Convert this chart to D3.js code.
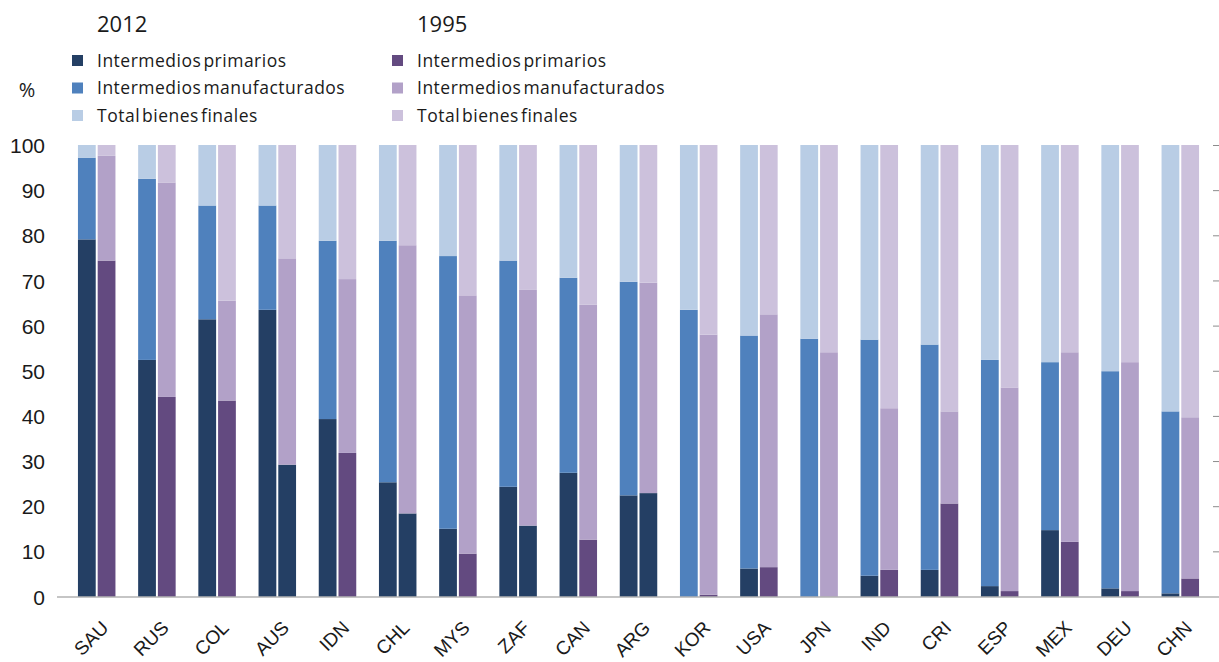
<!DOCTYPE html>
<html><head><meta charset="utf-8">
<script src="https://cdn.jsdelivr.net/npm/d3@7"></script>
<style>
html,body{margin:0;padding:0;background:#fff;}
svg{display:block;}
</style></head>
<body>
<svg id="chart" width="1219" height="662"></svg>
<script>
const countries = ["SAU","RUS","COL","AUS","IDN","CHL","MYS","ZAF","CAN","ARG","KOR","USA","JPN","IND","CRI","ESP","MEX","DEU","CHN"];
const years = ["2012","1995"];
const seriesNames = ["Intermedios primarios","Intermedios manufacturados","Total bienes finales"];

const primary2012 = [79.1,52.4,61.4,63.5,39.3,25.3,15.0,24.3,27.4,22.4,0.0,6.2,0.0,4.6,5.9,2.3,14.7,1.8,0.7];
const manuf2012   = [18.1,40.1,25.2,23.1,39.5,53.5,60.4,50.1,43.2,47.3,63.5,51.6,57.1,52.3,49.9,50.1,37.2,48.1,40.3];
const final2012   = [2.8,7.5,13.4,13.4,21.2,21.2,24.6,25.6,29.4,30.3,36.5,42.2,42.9,43.1,44.2,47.6,48.1,50.1,59.0];

const primary1995 = [74.4,44.2,43.4,29.2,31.8,18.4,9.5,15.7,12.6,22.9,0.4,6.5,0.0,5.9,20.6,1.2,12.1,1.2,4.0];
const manuf1995   = [23.2,47.5,22.1,45.7,38.5,59.4,57.2,52.2,52.0,46.6,57.6,56.0,54.1,35.8,20.4,45.1,42.0,50.7,35.7];
const final1995   = [2.4,8.3,34.5,25.1,29.7,22.2,33.3,32.1,35.4,30.5,42.0,37.5,45.9,58.3,59.0,53.7,45.9,48.1,60.3];

// countries whose 1995 primary segment is drawn in the 2012 navy colour in the original
const navyPrimary1995 = ["AUS","CHL","ZAF","ARG"];

const yTicks = [0,10,20,30,40,50,60,70,80,90,100];

const colors = {
  "2012": ["#243f64","#4f81bd","#b9cde5"],
  "1995": ["#634a80","#b2a1c8","#ccc1dc"]
};

const keys = ["primary","manuf","final"];
const rows = countries.map((c,i)=>({
  country:c,
  "2012":{primary:primary2012[i],manuf:manuf2012[i],final:final2012[i]},
  "1995":{primary:primary1995[i],manuf:manuf1995[i],final:final1995[i]}
}));

const svg = d3.select("#chart");
const y = d3.scaleLinear().domain([0,100]).range([596.5,145]);
const x0 = d3.scaleBand().domain(countries).range([66.6,1210.4]).paddingInner(0.377).paddingOuter(0.1885);
const x1 = d3.scaleBand().domain(years).range([0,x0.bandwidth()]).paddingInner(0.1);

const stack = d3.stack().keys(keys);

const g = svg.append("g");
years.forEach(yr=>{
  const data = rows.map(r=>Object.assign({country:r.country}, r[yr]));
  const st = stack(data);
  st.forEach((layer,li)=>{
    g.selectAll(null).data(layer).enter().append("rect")
      .attr("x",d=>x0(d.data.country)+x1(yr))
      .attr("width",x1.bandwidth())
      .attr("y",d=>y(d[1]))
      .attr("height",d=>Math.max(0,y(d[0])-y(d[1])))
      .attr("fill",d=>{
        if(yr==="1995" && li===0 && navyPrimary1995.includes(d.data.country)) return colors["2012"][0];
        return colors[yr][li];
      });
  });
});

// baseline
svg.append("line").attr("x1",57).attr("x2",1219).attr("y1",y(0)+0.5).attr("y2",y(0)+0.5)
  .attr("stroke","#8c8c8c").attr("stroke-width",1.2);

// left axis labels
const yAxis = d3.axisLeft(y).tickValues(yTicks).tickSize(0).tickPadding(0);
const ya = svg.append("g").attr("transform","translate(45,0)").call(yAxis);
ya.select(".domain").remove();
ya.selectAll("text").attr("font-family","Liberation Sans, Arial, sans-serif").attr("font-size","21px").attr("fill","#1a1a1a").attr("dy","0.36em");

// right tick marks
const yR = d3.axisRight(y).tickValues(yTicks.filter(t=>t>0)).tickSize(6).tickFormat("");
const yr = svg.append("g").attr("transform","translate(1213,0)").call(yR);
yr.select(".domain").remove();
yr.selectAll("line").attr("stroke","#8c8c8c");

// x labels
const xl = svg.append("g");
xl.selectAll("text").data(countries).enter().append("text")
  .attr("transform",d=>`translate(${x0(d)+x0.bandwidth()/2+13},629) rotate(-45)`)
  .attr("text-anchor","end")
  .attr("font-family","Liberation Sans, Arial, sans-serif")
  .attr("font-size","19px")
  .attr("fill","#1a1a1a")
  .text(d=>d);

// % label
svg.append("text").attr("x",27).attr("y",97).attr("text-anchor","middle")
  .attr("font-family","Open Sans, sans-serif").attr("font-size","20px").attr("fill","#1a1a1a").text("%");

// legend
const legendX = {"2012":72,"1995":392};
years.forEach(yr=>{
  const lg = svg.append("g").attr("transform",`translate(${legendX[yr]},0)`);
  lg.append("text").attr("x",25).attr("y",32).attr("font-family","Open Sans, sans-serif")
    .attr("font-size","22px").attr("fill","#1a1a1a").text(yr);
  seriesNames.forEach((s,i)=>{
    const cy = 60.5 + i*27.5;
    lg.append("rect").attr("x",0).attr("y",cy-5.5).attr("width",11).attr("height",11).attr("fill",colors[yr][i]);
    lg.append("text").attr("x",25).attr("y",cy+6).attr("font-family","Open Sans, sans-serif")
      .attr("font-size","17.5px").attr("fill","#1a1a1a").attr("letter-spacing","0.5px").attr("word-spacing","-3px").text(s);
  });
});
</script>
</body></html>
